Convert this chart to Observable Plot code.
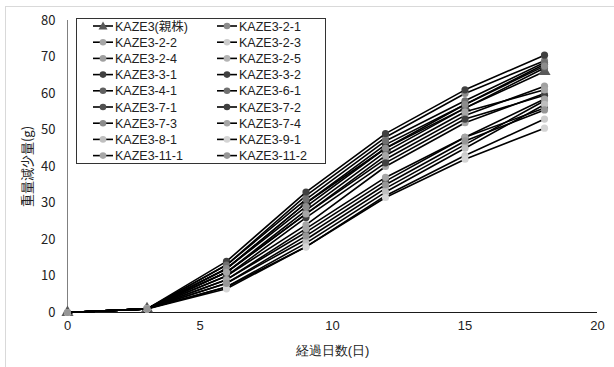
<!DOCTYPE html>
<html>
<head>
<meta charset="utf-8">
<script src="https://cdn.jsdelivr.net/npm/d3@7"></script>
<script src="https://cdn.jsdelivr.net/npm/@observablehq/plot@0.6"></script>
<style>
  html, body { margin: 0; padding: 0; background: #fff; }
  #wrap { position: relative; width: 614px; height: 367px; font-family: "Noto Sans CJK JP", "Noto Sans", sans-serif; }
  #frame { position: absolute; left: 5px; top: 6px; width: 615px; height: 370px; border: 1px solid #d9d9d9; box-sizing: border-box; }
  #chart { position: absolute; left: 0; top: 0; }
  #legend { position: absolute; left: 71px; top: 13px; }
</style>
</head>
<body>
<div id="wrap"><div id="frame"></div><div id="chart"></div><div id="legend"></div></div>
<script>
const days = [0, 3, 6, 9, 12, 15, 18];
const seriesNames = [
  "KAZE3(親株)", "KAZE3-2-1", "KAZE3-2-2", "KAZE3-2-3", "KAZE3-2-4", "KAZE3-2-5",
  "KAZE3-3-1", "KAZE3-3-2", "KAZE3-4-1", "KAZE3-6-1", "KAZE3-7-1", "KAZE3-7-2",
  "KAZE3-7-3", "KAZE3-7-4", "KAZE3-8-1", "KAZE3-9-1", "KAZE3-11-1", "KAZE3-11-2"
];
const seriesValues = [
  [0, 1, 12, 30, 45, 56, 66],
  [0, 1, 13, 32, 48, 60, 69],
  [0, 1, 10, 24, 40, 52, 60],
  [0, 1, 7, 18, 32, 43, 53],
  [0, 1, 11, 27, 42, 54, 62],
  [0, 1, 8, 20, 34, 46, 58],
  [0, 1, 14, 33, 49, 61, 70.5],
  [0, 1, 12, 30, 46, 57, 68],
  [0, 1, 11, 28, 44, 56, 67],
  [0, 1, 13, 31, 47, 58, 68.5],
  [0, 1, 9, 22, 36, 48, 56],
  [0, 1, 10, 26, 41, 53, 59.5],
  [0, 1, 12, 29, 45, 57, 67.5],
  [0, 1, 9, 23, 37, 48, 58.5],
  [0, 1, 7, 19, 33, 45, 57],
  [0, 1, 6.5, 18, 31.5, 42, 50.5],
  [0, 1, 11, 27, 43, 55, 61],
  [0, 1, 8, 21, 35, 47, 55.5]
];
const seriesColors = [
  "#595959", "#8c8c8c", "#a6a6a6", "#cccccc", "#a0a0a0", "#b4b4b4",
  "#404040", "#404040", "#606060", "#707070", "#505050", "#404040",
  "#8c8c8c", "#a6a6a6", "#bfbfbf", "#d4d4d4", "#a6a6a6", "#969696"
];
const yTicks = [0, 10, 20, 30, 40, 50, 60, 70, 80];
const xTicks = [0, 5, 10, 15, 20];

const data = seriesNames.flatMap((name, i) =>
  days.map((d, j) => ({ series: name, idx: i, day: d, value: seriesValues[i][j] })));

const marks = [
  Plot.ruleX([0], { stroke: "#808080", strokeWidth: 1 }),
  Plot.ruleY([0], { stroke: "#1a1a1a", strokeWidth: 1 })
];
seriesNames.forEach((name, i) => {
  const rows = data.filter(r => r.idx === i);
  marks.push(Plot.line(rows, { x: "day", y: "value", stroke: "#000", strokeWidth: 1.6 }));
  marks.push(Plot.dot(rows, {
    x: "day", y: "value", fill: seriesColors[i], stroke: "none",
    r: i === 0 ? 4.5 : 3.6, symbol: i === 0 ? "triangle" : "circle"
  }));
});
marks.push(Plot.axisY({ ticks: yTicks, tickSize: 0, tickPadding: 12, label: "重量減少量(g)",
  labelAnchor: "center", labelArrow: "none", labelOffset: 45, fontSize: 13 }));
marks.push(Plot.axisX({ ticks: xTicks, tickSize: 0, tickPadding: 8, label: "経過日数(日)",
  labelAnchor: "center", labelArrow: "none", labelOffset: 42, fontSize: 13,
  fontFamily: "'Liberation Sans', 'Noto Sans', sans-serif" }));

const chart = Plot.plot({
  width: 614, height: 367,
  marginTop: 20, marginBottom: 55, marginLeft: 67, marginRight: 17,
  style: { fontFamily: "'Noto Sans CJK JP', 'Noto Sans', sans-serif", fontSize: "13px", color: "#222", background: "transparent" },
  x: { domain: [0, 20] },
  y: { domain: [0, 80] },
  marks
});
document.getElementById("chart").appendChild(chart);

// legend (box at page x 76..325, y 18..163)
const off = 5;
const lw = 249, lh = 145, rowH = 16.2;
const lg = d3.select("#legend").append("svg").attr("width", lw + 2 * off + 2).attr("height", lh + 2 * off + 2);
lg.append("rect").attr("x", off + 0.5).attr("y", off + 0.5).attr("width", lw).attr("height", lh)
  .attr("fill", "#fff").attr("stroke", "#333").attr("stroke-width", 1);
seriesNames.forEach((name, i) => {
  const col = i % 2, row = Math.floor(i / 2);
  const x0 = off + (col === 0 ? 17 : 141);
  const y = off + 8 + row * rowH;
  const g = lg.append("g");
  g.append("line").attr("x1", x0).attr("x2", x0 + 20).attr("y1", y).attr("y2", y)
    .attr("stroke", "#000").attr("stroke-width", 1.6);
  if (i === 0) {
    const s = 4.5;
    g.append("path").attr("d", `M${x0 + 10},${y - s}L${x0 + 10 + s},${y + s * 0.75}L${x0 + 10 - s},${y + s * 0.75}Z`)
      .attr("fill", seriesColors[i]);
  } else {
    g.append("circle").attr("cx", x0 + 10).attr("cy", y).attr("r", 3.3).attr("fill", seriesColors[i]);
  }
  g.append("text").attr("x", x0 + 22).attr("y", y).attr("dy", "0.36em")
    .attr("font-size", 12.5).attr("fill", "#222")
    .attr("font-family", "'Liberation Sans', 'Noto Sans CJK JP', sans-serif").text(name);
});
</script>
</body>
</html>
